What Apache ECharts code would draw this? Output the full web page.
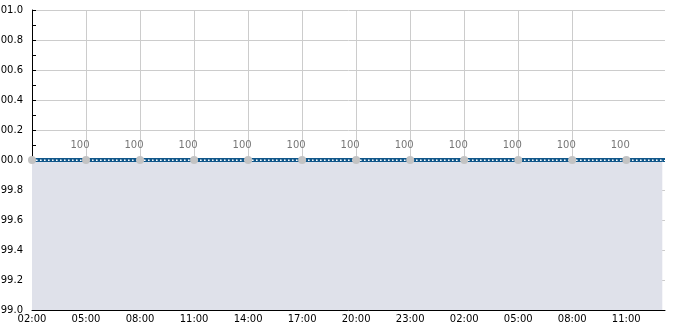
<!DOCTYPE html>
<html><head><meta charset="utf-8">
<script src="https://cdn.jsdelivr.net/npm/echarts@6/dist/echarts.min.js"></script>
<style>html,body{margin:0;padding:0;background:#fff}#c{width:685px;height:330px}</style>
</head><body><div id="c"></div>
<script>
const categories = ["02:00","03:00","04:00","05:00","06:00","07:00","08:00","09:00","10:00","11:00","12:00","13:00","14:00","15:00","16:00","17:00","18:00","19:00","20:00","21:00","22:00","23:00","00:00","01:00","02:00","03:00","04:00","05:00","06:00","07:00","08:00","09:00","10:00","11:00","12:00","13:00"];
const values = [100,100,100,100,100,100,100,100,100,100,100,100,100,100,100,100,100,100,100,100,100,100,100,100,100,100,100,100,100,100,100,100,100,100,100,100];
const tickHours = [0,3,6,9,12,15,18,21,24,27,30,33];
const xMaxHours = 35.15;
const yMin = 99.0, yMax = 101.0, yStep = 0.2;

const chart = echarts.init(document.getElementById('c'), null, {renderer:'canvas'});
const font = 'DejaVu Sans';
const pts = values.map((v,i)=>[i,v]);
chart.setOption({
  animation:false,
  grid:{left:32, right:20, top:10, bottom:20, containLabel:false, outerBoundsMode:'none'},
  xAxis:{
    type:'value', min:0, max:xMaxHours,
    axisLine:{lineStyle:{color:'#000', width:1}},
    axisTick:{show:true, inside:true, length:5, customValues:tickHours, lineStyle:{color:'#000'}},
    axisLabel:{customValues:tickHours, color:'#000', fontFamily:font, fontSize:10, margin:4,
      formatter:v=>categories[Math.round(v)]},
    splitLine:{show:true, showMaxLine:false, lineStyle:{color:'#cccccc', width:1}}
  },
  yAxis:{
    type:'value', min:yMin, max:yMax, interval:yStep,
    axisLine:{show:true, lineStyle:{color:'#000', width:1}},
    axisTick:{show:true, inside:true, length:4, lineStyle:{color:'#000'}},
    minorTick:{show:true, splitNumber:2, length:4, lineStyle:{color:'#000'}},
    axisLabel:{color:'#000', fontFamily:font, fontSize:10, margin:9, formatter:v=>v.toFixed(1)},
    splitLine:{show:true, lineStyle:{color:'#cccccc', width:1}}
  },
  series:[
    {
      type:'line', data:pts, z:1, symbol:'none', silent:true,
      lineStyle:{color:'#11578a', width:4},
      areaStyle:{color:'#dfe1ea', opacity:1},
      markLine:{silent:true, z:1, symbol:'none', label:{show:false}, animation:false,
        lineStyle:{color:'#11578a', width:4, type:'solid'},
        data:[{type:'average'}]}
    },
    {
      type:'line', data:pts, z:2, symbol:'none', silent:true,
      lineStyle:{color:'#ffffff', width:1.2, type:[1.5,2.5]},
      markLine:{silent:true, z:2, symbol:'none', label:{show:false}, animation:false,
        lineStyle:{color:'#ffffff', width:1.2, type:[1.5,2.5]},
        data:[{type:'average'}]}
    },
    {
      type:'line', data:pts, z:3,
      lineStyle:{width:0, opacity:0},
      showAllSymbol:true,
      symbol:'circle',
      symbolSize:(v,p)=> (p.dataIndex % 3 === 0 ? 8 : 0),
      itemStyle:{color:'#c3c3c3', borderWidth:0},
      label:{show:true, position:'top', distance:6, offset:[-6,0], color:'#777', fontFamily:font, fontSize:10,
        formatter:p=> (p.dataIndex % 3 === 0 && p.dataIndex>0 ? String(p.value[1]) : '')}
    }
  ]
});
</script></body></html>
